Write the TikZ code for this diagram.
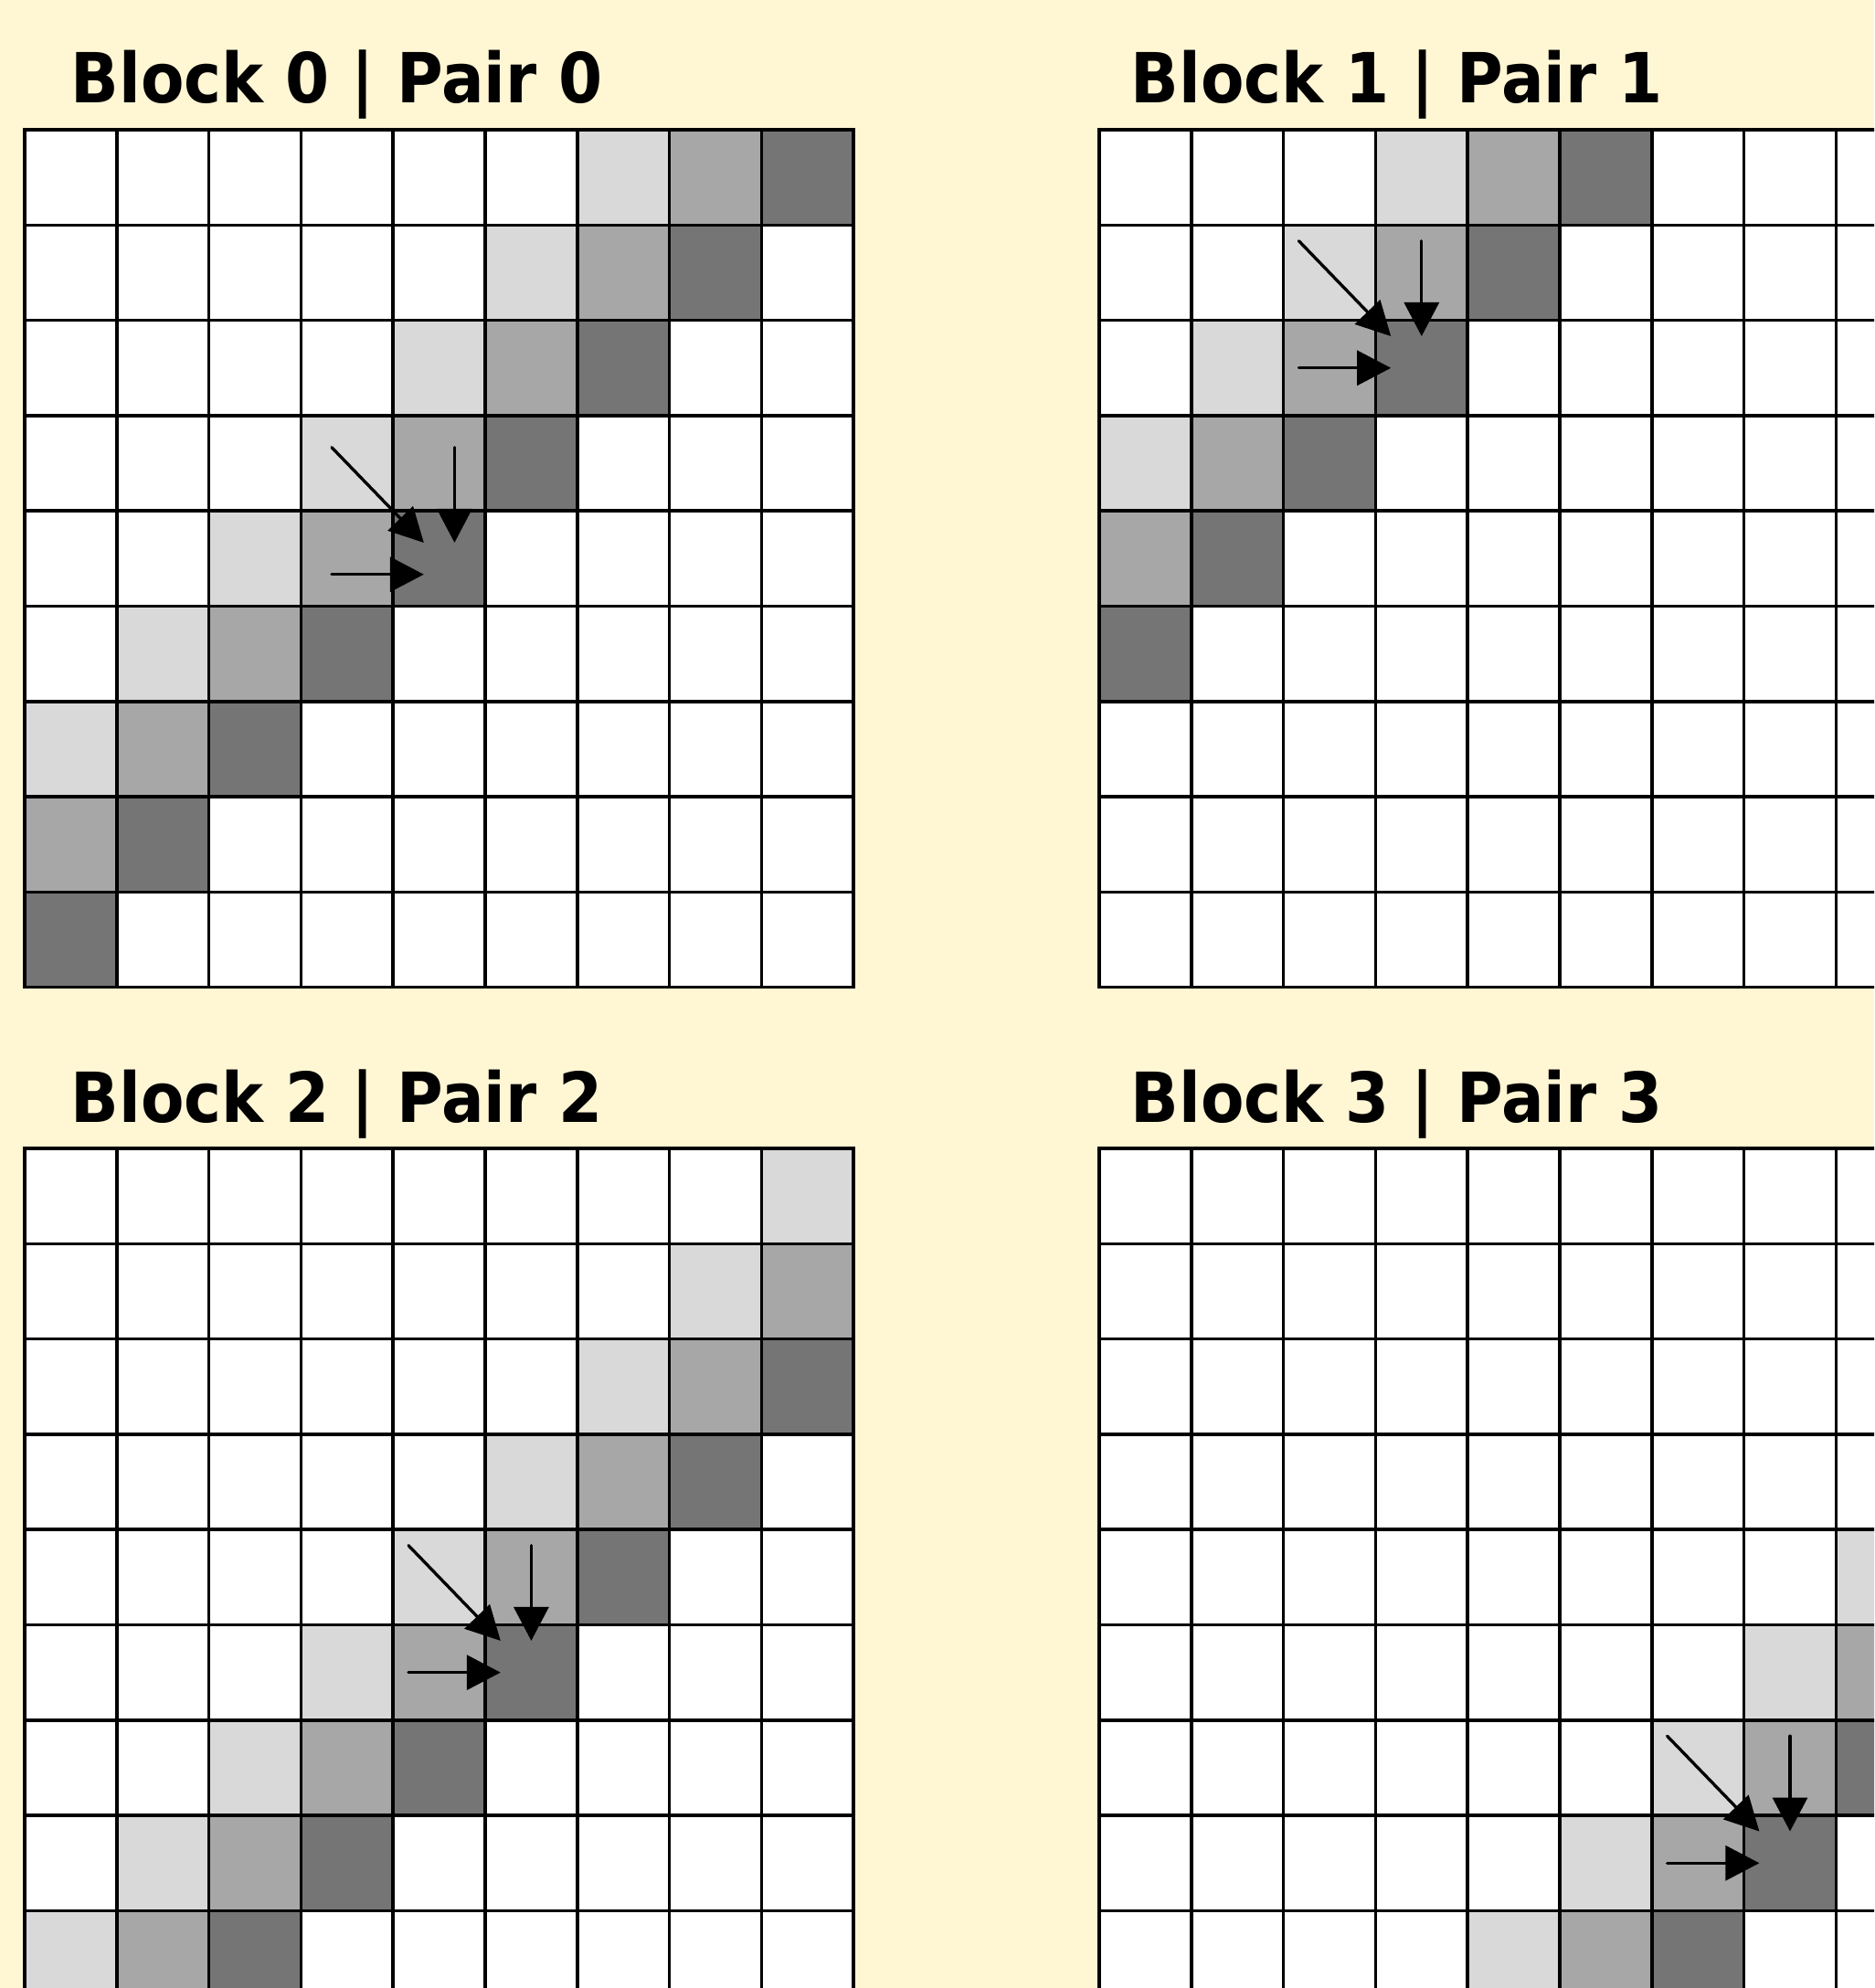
\documentclass[tikz,border=0pt]{standalone}
\usepackage{fontspec}
\usetikzlibrary{arrows.meta}
\newfontfamily\blockfont[FakeStretch=0.915]{DejaVu Sans}
\definecolor{paperCream}{RGB}{255,246,212}
\definecolor{cellLight}{RGB}{217,217,217}
\definecolor{cellMid}{RGB}{167,167,167}
\definecolor{cellDark}{RGB}{117,117,117}
\tikzset{
  gridline/.style={draw=black,line width=1pt,line cap=rect},
  stepArrow/.style={line width=0.95pt,line cap=round,-{Triangle[length=0.37cm,width=0.38cm]}},
  blockTitle/.style={anchor=base west,inner sep=0pt,font=\blockfont\bfseries\fontsize{21.5pt}{26pt}\selectfont}
}
% #1 name, #2 #3 top left corner, #4 diagonal of the light cells,
% #5 #6 column and row of the target cell, #7 #8 arrow offsets in the cell
\newcommand{\DiagBlock}[8]{%
\begin{scope}[shift={(#2,#3)},x=1.008cm,y=-1.043cm]
  \foreach \r in {0,...,8}
    \foreach \c in {0,...,8} {
      \pgfmathtruncatemacro{\k}{\c+\r-#4}
      \ifnum\k=0 \def\cellcol{cellLight}\else
        \ifnum\k=1 \def\cellcol{cellMid}\else
          \ifnum\k=2 \def\cellcol{cellDark}\else\def\cellcol{white}\fi\fi\fi
      \fill[\cellcol] (\c,\r) rectangle ++(1,1);
    }
  \foreach \i in {0,...,9} {
    \draw[gridline] (\i,0) -- (\i,9);
    \draw[gridline] (0,\i) -- (9,\i);
  }
  \coordinate (#1-d0) at (#5-1+#7,#6-1+#7);
  \coordinate (#1-d1) at (#5+#7,#6+#7);
  \coordinate (#1-v0) at (#5+#8,#6-1+#7);
  \coordinate (#1-v1) at (#5+#8,#6+#7);
  \coordinate (#1-h0) at (#5-1+#7,#6+#8);
  \coordinate (#1-h1) at (#5+#7,#6+#8);
  \draw[stepArrow] (#1-d0) -- (#1-d1);
  \draw[stepArrow] (#1-v0) -- (#1-v1);
  \draw[stepArrow] (#1-h0) -- (#1-h1);
\end{scope}}

\begin{document}
\begin{tikzpicture}
\fill[paperCream] (0,0) rectangle (20.51,-21.76);
\useasboundingbox (0,0) rectangle (20.51,-21.76);
\clip (0,0) rectangle (20.51,-21.76);

\node[blockTitle] (title0) at (0.77,-1.12) {Block 0 | Pair 0};
\node[blockTitle] (title1) at (12.37,-1.12) {Block 1 | Pair 1};
\node[blockTitle] (title2) at (0.77,-12.28) {Block 2 | Pair 2};
\node[blockTitle] (title3) at (12.37,-12.28) {Block 3 | Pair 3};

\DiagBlock{b0}{0.27}{-1.42}{6}{4}{4}{0.3333}{0.6667}
\DiagBlock{b1}{12.03}{-1.42}{3}{3}{2}{0.1667}{0.5}
\DiagBlock{b2}{0.27}{-12.57}{8}{5}{5}{0.1667}{0.5}
\DiagBlock{b3}{12.03}{-12.57}{12}{7}{7}{0.1667}{0.5}
\end{tikzpicture}
\end{document}
